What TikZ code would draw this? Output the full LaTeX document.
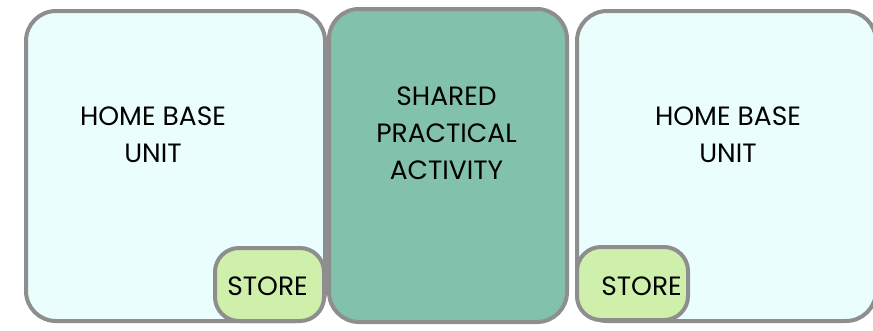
\documentclass[tikz,border=0pt]{standalone}
\usepackage{fontspec}
\setmainfont{Poppins}
\definecolor{edge}{HTML}{8E8E8E}
\definecolor{homefill}{HTML}{E9FEFD}
\definecolor{sharedfill}{HTML}{82C2AC}
\definecolor{storefill}{HTML}{CEF0AB}
\tikzset{
  bigbox/.style={draw=edge, line width=4pt, rounded corners=30pt, inner sep=0pt},
  storebox/.style={draw=edge, line width=4pt, fill=storefill, rounded corners=24pt, inner sep=0pt},
  lbl/.style={align=center, font=\fontsize{26.5}{37}\selectfont, text=black, inner sep=0pt}
}
\begin{document}
\begin{tikzpicture}[x=1pt,y=-1pt]
\useasboundingbox (0,0) rectangle (873,330);
\begin{scope}
\clip (0,0) rectangle (873,330);
\node[bigbox, fill=homefill, minimum width=299pt, minimum height=310pt] (homeL) at (175.5,166) {};
\node[bigbox, fill=homefill, minimum width=299pt, minimum height=310pt] (homeR) at (726.5,166) {};
\node[bigbox, fill=sharedfill, minimum width=238pt, minimum height=313pt] (shared) at (448,165.5) {};
\node[storebox, minimum width=109pt, minimum height=73pt] (storeL) at (269.5,284.5) {};
\node[storebox, minimum width=111pt, minimum height=73pt] (storeR) at (632.5,283.5) {};
\end{scope}
\node[lbl] (tHomeL) at (153,135) {HOME BASE\\UNIT};
\node[lbl] (tHomeR) at (728,135) {HOME BASE\\UNIT};
\node[lbl] (tShared) at (446.5,133) {SHARED\\PRACTICAL\\ACTIVITY};
\node[lbl] (tStoreL) at (267.5,286.5) {STORE};
\node[lbl] (tStoreR) at (641.5,286.5) {STORE};
\end{tikzpicture}
\end{document}
